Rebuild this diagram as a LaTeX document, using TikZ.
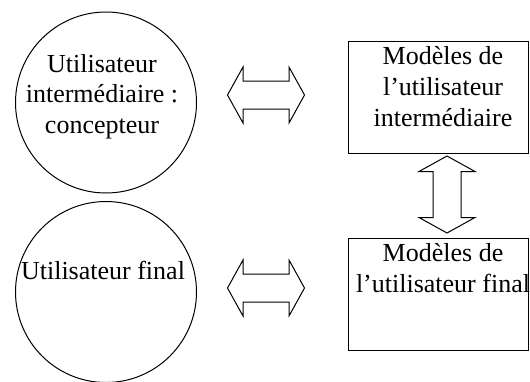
\documentclass[tikz,border=0pt]{standalone}
\usepackage{fontspec}
\setmainfont{Liberation Serif}
\usetikzlibrary{positioning, calc}
\tikzset{
  usercircle/.style={circle, draw, line width=1pt, minimum size=181pt, inner sep=0pt},
  usertext/.style={font=\fontsize{26pt}{30.5pt}\selectfont, align=center,
                   anchor=base, inner sep=0pt},
  boxtext/.style={font=\fontsize{26pt}{31pt}\selectfont, align=center,
                  anchor=base, inner sep=0pt}
}
\newcommand{\modelbox}[4]{%
  \node[draw, line width=1pt, minimum width=180pt, minimum height=112pt,
        inner sep=0pt] (#1) at (438,#2) {};
  \node[boxtext] (#1-text) at ($(#1.north)+(5,#3)$) {#4};}
\newcommand{\blockarrow}[3]{%
  \draw[line width=1pt, shift={(#1,#2)}, rotate=#3]
    (-38.5,0) -- (-23,-28) -- (-23,-14) -- (23,-14) -- (23,-28)
    -- (38.5,0) -- (23,28) -- (23,14) -- (-23,14) -- (-23,28) -- cycle;}

\begin{document}
\begin{tikzpicture}[x=1pt, y=-1pt]
  \useasboundingbox (0,0) rectangle (530,381);
  \node[usercircle] (inter) at (106,102.5) {};
  \node[usertext] (inter-text) at ($(inter.center)+(-4,30.5)$)
    {Utilisateur\\intermédiaire :\\concepteur};
  \node[usercircle] (final) at (106,292) {};
  \node[usertext] (final-text) at ($(final.center)+(-3,-13)$) {Utilisateur final};
  \modelbox{intermodel}{97}{86}{Modèles de\\l’utilisateur\\intermédiaire}
  \modelbox{finalmodel}{294}{55}{Modèles de\\l’utilisateur final}
  \blockarrow{266}{95}{0}
  \blockarrow{266}{288}{0}
  \blockarrow{447}{194.5}{90}
\end{tikzpicture}
\end{document}
